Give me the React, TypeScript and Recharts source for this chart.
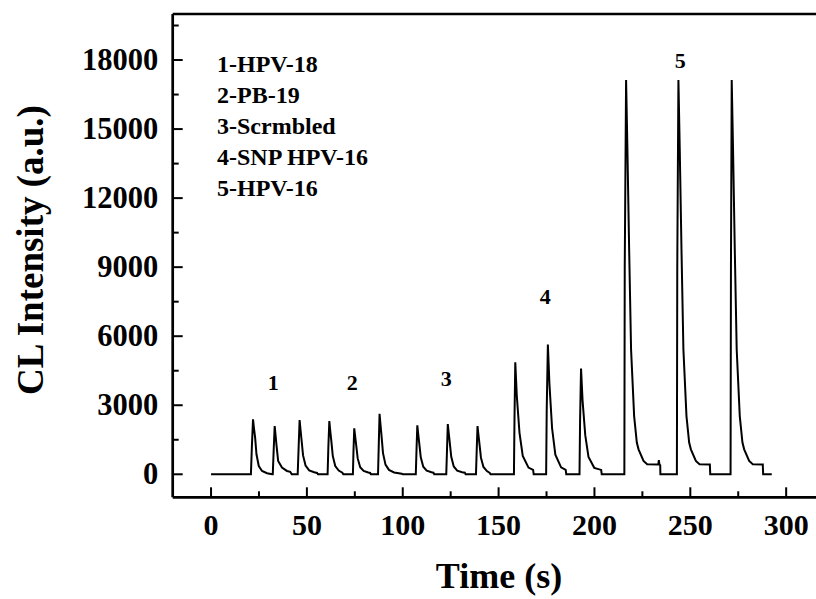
import { LineChart, Line, XAxis, YAxis, ReferenceLine, ReferenceDot } from "recharts";

// [time (s), CL intensity (a.u.)], one list per sample group
const hpv18 = [
  [0, 0], [20.8, 0], [21.3, 1200], [21.9, 2385], [22.4, 2000], [23.0, 1590], [23.7, 870], [24.9, 360],
  [26.6, 145], [29.2, 45], [31.9, 0],
  [32.2, 0], [32.7, 1100], [33.2, 2095], [33.6, 1750], [34.1, 1300], [35.0, 580], [37.0, 290],
  [39.6, 145], [41.3, 110], [42.1, 0],
  [45.2, 0], [45.7, 1200], [46.2, 2355], [46.6, 2000], [47.2, 1500], [48.0, 820], [49.3, 380],
  [51.2, 170], [53.8, 90], [55.3, 60], [55.8, 0],
];
const pb19 = [
  [60.8, 0], [61.2, 1200], [61.7, 2310], [62.1, 1950], [62.7, 1480], [63.5, 800], [64.8, 360],
  [66.6, 160], [68.5, 70], [69.0, 0],
  [74.0, 0], [74.3, 1000], [74.7, 1995], [75.1, 1700], [75.7, 1280], [76.5, 690], [77.8, 310],
  [79.6, 150], [82.0, 80], [83.0, 60], [83.4, 0],
  [87.1, 0], [87.5, 1300], [87.9, 2630], [88.3, 2250], [88.9, 1700], [89.7, 920], [91.0, 420],
  [92.8, 190], [95.5, 80], [99.5, 20], [100, 0],
];
const scrambled = [
  [106.8, 0], [107.2, 1100], [107.6, 2125], [108.0, 1800], [108.6, 1350], [109.4, 740], [110.7, 330],
  [112.5, 160], [115.0, 90], [116.0, 70], [116.4, 0],
  [122.7, 0], [123.1, 1100], [123.5, 2180], [123.9, 1850], [124.5, 1400], [125.3, 760], [126.6, 340],
  [128.4, 160], [131.0, 90], [132.4, 70], [132.8, 0],
  [138.2, 0], [138.6, 1100], [139.0, 2095], [139.4, 1780], [140.0, 1330], [140.8, 720], [142.1, 320],
  [143.9, 140], [145.4, 60], [145.8, 0],
];
const snpHpv16 = [
  [158.0, 0], [158.3, 2500], [158.7, 4870], [159.5, 3400], [160.9, 1800], [162.6, 800], [165.6, 290],
  [168.0, 190], [168.3, 0],
  [174.8, 0], [175.1, 2800], [175.7, 5637], [176.5, 3950], [177.9, 2000], [179.6, 850], [182.6, 300],
  [185.0, 190], [185.3, 0],
  [192.2, 0], [192.5, 2300], [193.0, 4597], [193.8, 3200], [195.2, 1700], [196.9, 750], [199.9, 280],
  [203.5, 190], [203.8, 0],
];
const hpv16 = [
  [215.6, 0], [215.8, 9000], [216.5, 17130], [217.2, 14090], [218.1, 9760], [219.1, 5420], [220.7, 2530],
  [222.1, 1380], [223.0, 1085], [225.6, 580], [227.5, 440], [233.3, 430], [233.6, 620], [233.9, 430],
  [234.3, 400], [234.4, 0],
  [243.0, 0], [243.2, 9000], [243.8, 17130], [244.5, 14090], [245.4, 9760], [246.4, 5420], [248.0, 2530],
  [249.4, 1380], [250.3, 1085], [252.9, 580], [254.8, 440], [260.2, 430], [260.4, 0],
  [271.0, 0], [271.2, 9000], [271.6, 17130], [272.3, 14090], [273.2, 9760], [274.2, 5420], [275.8, 2530],
  [277.2, 1380], [278.1, 1085], [280.7, 580], [282.6, 440], [287.8, 430], [288.0, 0], [292.5, 0],
];

const legendNames = ["1-HPV-18", "2-PB-19", "3-Scrmbled", "4-SNP HPV-16", "5-HPV-16"];
// group number, time, intensity where the number sits
const groupLabels = [
  ["1", 32.5, 3990],
  ["2", 73.7, 3990],
  ["3", 122.7, 4200],
  ["4", 174.3, 7760],
  ["5", 244.7, 17990],
];

const xTicks = [0, 25, 50, 75, 100, 125, 150, 175, 200, 225, 250, 275, 300];
const yTicks = [0, 1500, 3000, 4500, 6000, 7500, 9000, 10500, 12000, 13500, 15000, 16500, 18000, 19500];

const data = [...hpv18, ...pb19, ...scrambled, ...snpHpv16, ...hpv16].map(([time, cl]) => ({ time, cl }));

const FONT = "'Liberation Serif', 'Times New Roman', serif";

function XTick(props: any) {
  const { x, y, payload } = props;
  const major = payload.value % 50 === 0;
  return (
    <g>
      <line x1={x} x2={x} y1={y} y2={y - (major ? 10 : 6)} stroke="#000" strokeWidth={2} />
      {major && (
        <text x={x} y={y + 38} textAnchor="middle" fontFamily={FONT} fontWeight="bold" fontSize={30} fill="#000">
          {payload.value}
        </text>
      )}
    </g>
  );
}

function YTick(props: any) {
  const { x, y, payload } = props;
  const major = payload.value % 3000 === 0;
  return (
    <g>
      <line x1={x} x2={x + (major ? 10 : 6)} y1={y} y2={y} stroke="#000" strokeWidth={2} />
      {major && (
        <text x={x - 14.5} y={y + 10} textAnchor="end" fontFamily={FONT} fontWeight="bold" fontSize={30.5} fill="#000">
          {payload.value}
        </text>
      )}
    </g>
  );
}

const xLabel = () => (
  <text x={499} y={588} textAnchor="middle" fontFamily={FONT} fontWeight="bold" fontSize={36} fill="#000">
    Time (s)
  </text>
);

const yLabel = () => (
  <text x={43} y={250} transform="rotate(-90, 43, 250)" textAnchor="middle" fontFamily={FONT} fontWeight="bold" fontSize={37} fill="#000">
    CL Intensity (a.u.)
  </text>
);

export default function App() {
  return (
    <div style={{ position: "absolute", left: 0, top: 0, width: 816, height: 599, overflow: "hidden", background: "#fff" }}>
      <LineChart width={840} height={599} data={data} margin={{ top: 14, right: 15.5, bottom: 0, left: 0 }}>
        <XAxis
          dataKey="time"
          type="number"
          domain={[-20, 320]}
          ticks={xTicks}
          interval={0}
          height={101.7}
          tickSize={0}
          tickMargin={0}
          tickLine={false}
          tick={<XTick />}
          axisLine={{ stroke: "#000", strokeWidth: 2.7 }}
          allowDataOverflow
          label={xLabel}
        />
        <YAxis
          type="number"
          domain={[-1000, 20000]}
          ticks={yTicks}
          interval={0}
          width={172.7}
          tickSize={0}
          tickMargin={0}
          tickLine={false}
          tick={<YTick />}
          axisLine={{ stroke: "#000", strokeWidth: 2.7 }}
          allowDataOverflow
          label={yLabel}
        />
        <ReferenceLine y={20000} stroke="#000" strokeWidth={2.7} />
        <ReferenceLine x={320} stroke="#000" strokeWidth={2.7} />
        <Line dataKey="cl" type="linear" dot={false} stroke="#000" strokeWidth={2} isAnimationActive={false} />
        {groupLabels.map(([name, t, v]) => (
          <ReferenceDot
            key={name as string}
            x={t as number}
            y={v as number}
            r={0}
            fill="none"
            stroke="none"
            label={(p: any) => (
              <text x={p.viewBox.x} y={p.viewBox.y + 8} textAnchor="middle" fontFamily={FONT} fontWeight="bold" fontSize={22} fill="#000">
                {name}
              </text>
            )}
          />
        ))}
      </LineChart>
      <svg width={816} height={599} style={{ position: "absolute", left: 0, top: 0, pointerEvents: "none" }}>
        {legendNames.map((n, i) => (
          <text key={n} x={217} y={72 + i * 31} fontFamily={FONT} fontWeight="bold" fontSize={24} fill="#000">
            {n}
          </text>
        ))}
      </svg>
    </div>
  );
}
